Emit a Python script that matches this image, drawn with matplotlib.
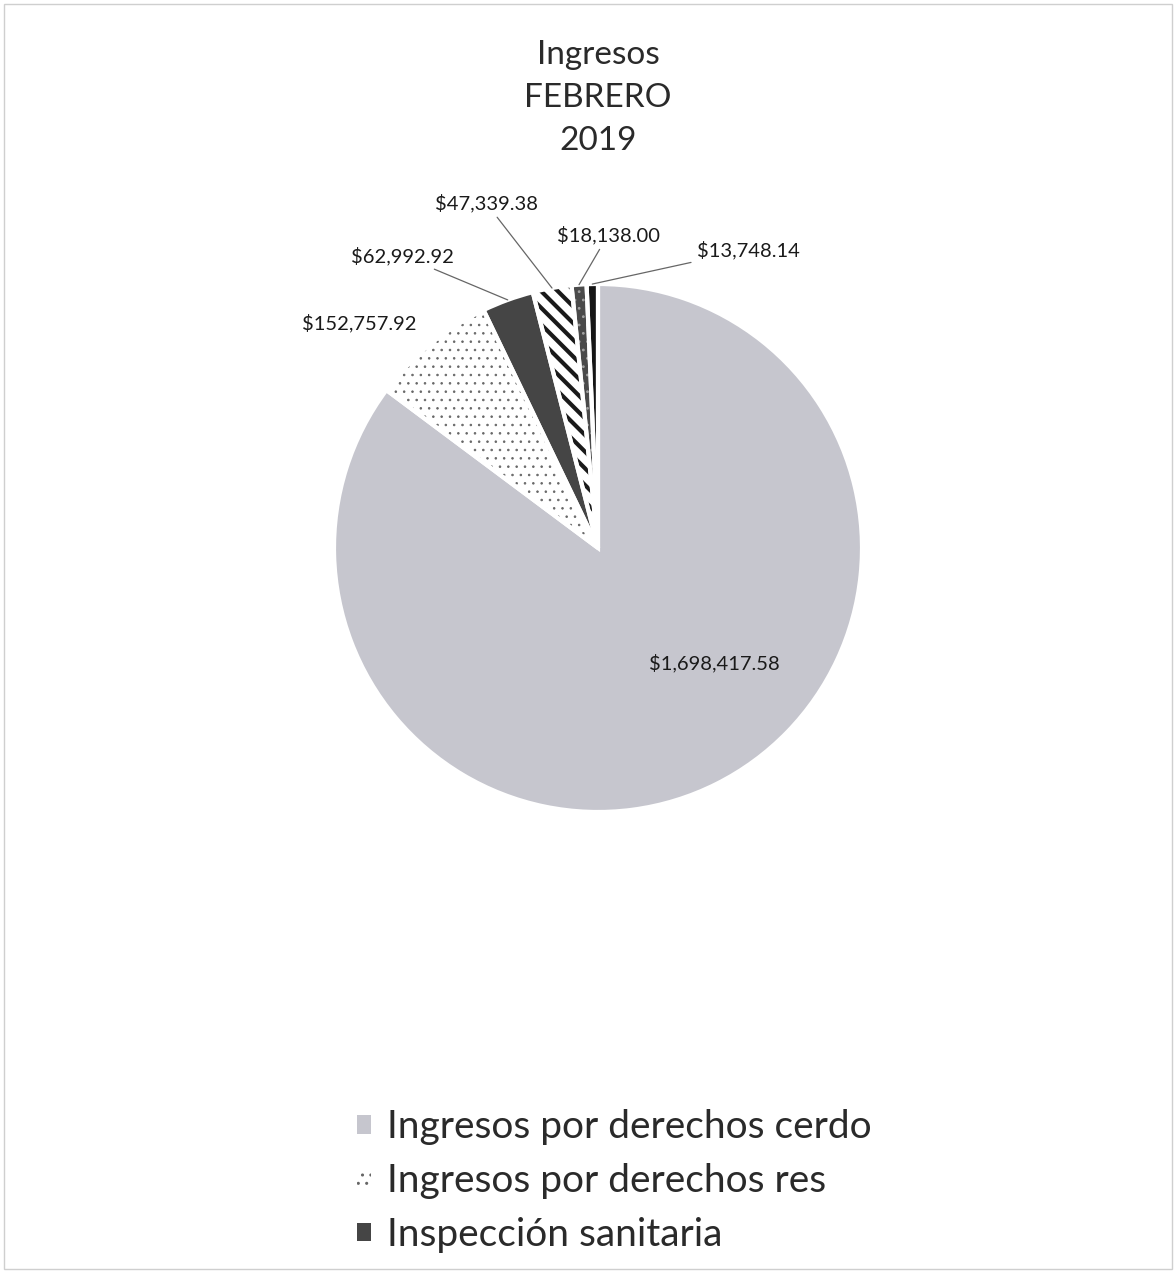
import matplotlib.pyplot as plt
from matplotlib.patches import Rectangle
import numpy as np

plt.rcParams['font.family'] = ['Lato', 'DejaVu Sans']
plt.rcParams['hatch.linewidth'] = 1.0

# valores del gráfico
valores = [1698417.58, 152757.92, 62992.92, 47339.38, 18138.00, 13748.14]
etiquetas = ['$1,698,417.58', '$152,757.92', '$62,992.92', '$47,339.38', '$18,138.00', '$13,748.14']
leyenda = ['Ingresos por derechos cerdo', 'Ingresos por derechos res', 'Inspección sanitaria']
titulo = 'Ingresos\nFEBRERO\n2019'

colores = ['#c6c6ce', 'white', '#454545', 'white', '#4a4a4a', '#151515']
tramas = [None, '..', None, '\\\\', '..', None]
color_trama = ['#c6c6ce', '#666666', '#454545', '#1a1a1a', '#a0a0a0', '#151515']
grosor_trama = [1.0, 0.6, 1.0, 3.0, 0.8, 1.0]

# posiciones de las etiquetas (en unidades del radio)
pos_etq = [(0.44, -0.436), (-0.905, 0.852), (-0.739, 1.106), (-0.424, 1.307), (0.038, 1.186), (0.568, 1.129)]
con_linea = [False, False, True, True, True, True]

W, H = 1176, 1273
fig = plt.figure(figsize=(W / 100, H / 100), dpi=100)
fig.patch.set_facecolor('white')
fig.patches.append(Rectangle((0.003, 0.003), 0.994, 0.994, transform=fig.transFigure,
                             fill=False, edgecolor='#cfcfcf', linewidth=1))

cx, cy, r = 598, 548, 264
ax = fig.add_axes([(cx - r) / W, (H - cy - r) / H, 2 * r / W, 2 * r / H])

wedges, _ = ax.pie(valores, startangle=90, counterclock=False, colors=colores,
                   wedgeprops=dict(linewidth=0))
for w, h, c, g in zip(wedges, tramas, color_trama, grosor_trama):
    w.set_edgecolor(c)
    w.set_linewidth(0)
    if h:
        w.set_hatch(h)
        if hasattr(w, 'set_hatch_linewidth'):
            w.set_hatch_linewidth(g)

# bordes blancos entre sectores
ax.pie(valores, startangle=90, counterclock=False,
       wedgeprops=dict(fill=False, edgecolor='white', linewidth=3))

ax.set_xlim(-1, 1)
ax.set_ylim(-1, 1)
ax.set_aspect('equal')
ax.axis('off')

for w, txt, p, linea in zip(wedges, etiquetas, pos_etq, con_linea):
    ang = np.deg2rad((w.theta1 + w.theta2) / 2)
    if linea:
        px, py = 1.0 * np.cos(ang), 1.0 * np.sin(ang)
        ax.annotate(txt, xy=(px, py), xytext=p, ha='center', va='center', fontsize=14.5,
                    color='#1a1a1a', annotation_clip=False,
                    arrowprops=dict(arrowstyle='-', color='#666666', lw=0.9,
                                    shrinkA=2, shrinkB=0))
    else:
        ax.text(p[0], p[1], txt, ha='center', va='center', fontsize=14.5, color='#1a1a1a',
                clip_on=False)

fig.text(cx / W, 1 - 98 / H, titulo, ha='center', va='center', fontsize=24,
         color='#2a2a2a', linespacing=1.55)

fig.legend(wedges[:3], leyenda, loc='upper left', bbox_to_anchor=(338 / W, 1 - 1090 / H),
           frameon=False, fontsize=28, handlelength=0.35, handleheight=0.35,
           handletextpad=0.4, labelspacing=0.46, labelcolor='#2a2a2a', borderpad=0)

fig.savefig('out.png', dpi=100, facecolor='white')
